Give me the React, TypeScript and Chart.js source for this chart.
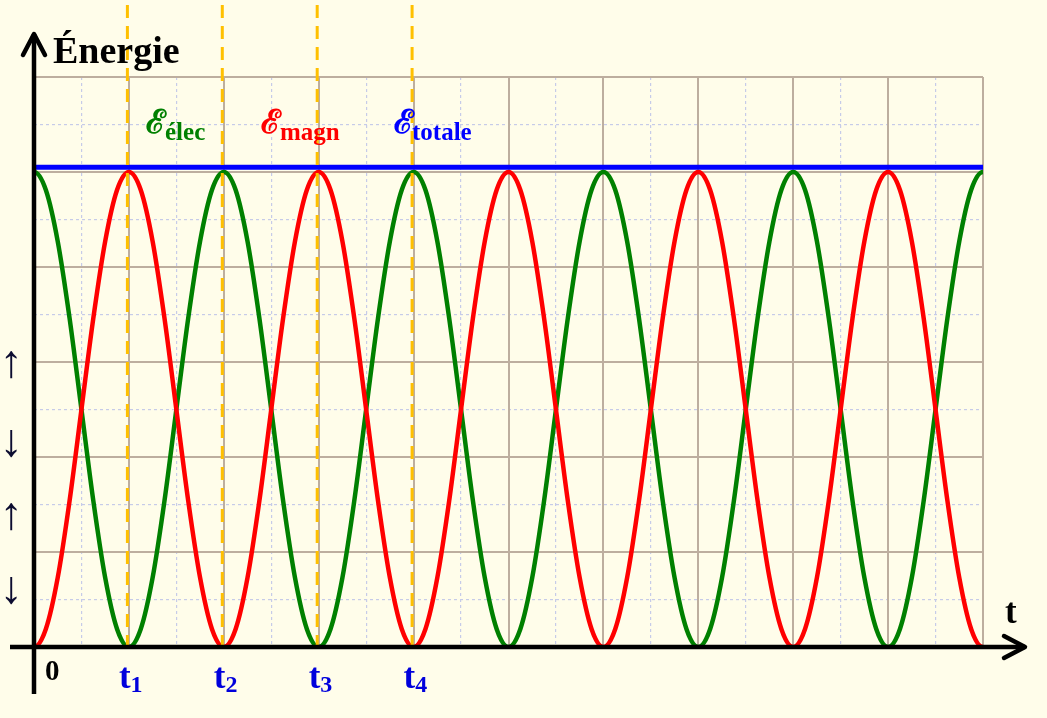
import { useEffect, useRef } from "react";
import { Chart, registerables } from "chart.js";

Chart.register(...registerables);

// Curves are sampled every T_STEP, starting one step before t = 0
// so that both ends of the drawn range stay smooth.
const T_STEP = 0.125;
const T_START = -0.125;

// Electric energy (green)
const eElec = [
  4.81,
  5, 4.81, 4.27, 3.46, 2.5, 1.54, 0.73, 0.19, 0, 0.19, 0.73, 1.54, 2.5, 3.46, 4.27, 4.81,
  5, 4.81, 4.27, 3.46, 2.5, 1.54, 0.73, 0.19, 0, 0.19, 0.73, 1.54, 2.5, 3.46, 4.27, 4.81,
  5, 4.81, 4.27, 3.46, 2.5, 1.54, 0.73, 0.19, 0, 0.19, 0.73, 1.54, 2.5, 3.46, 4.27, 4.81,
  5, 4.81, 4.27, 3.46, 2.5, 1.54, 0.73, 0.19, 0, 0.19, 0.73, 1.54, 2.5, 3.46, 4.27, 4.81,
  5, 4.81, 4.27, 3.46, 2.5, 1.54, 0.73, 0.19, 0, 0.19, 0.73, 1.54, 2.5, 3.46, 4.27, 4.81,
  5, 4.81,
];

// Magnetic energy (red)
const eMagn = [
  0.19,
  0, 0.19, 0.73, 1.54, 2.5, 3.46, 4.27, 4.81, 5, 4.81, 4.27, 3.46, 2.5, 1.54, 0.73, 0.19,
  0, 0.19, 0.73, 1.54, 2.5, 3.46, 4.27, 4.81, 5, 4.81, 4.27, 3.46, 2.5, 1.54, 0.73, 0.19,
  0, 0.19, 0.73, 1.54, 2.5, 3.46, 4.27, 4.81, 5, 4.81, 4.27, 3.46, 2.5, 1.54, 0.73, 0.19,
  0, 0.19, 0.73, 1.54, 2.5, 3.46, 4.27, 4.81, 5, 4.81, 4.27, 3.46, 2.5, 1.54, 0.73, 0.19,
  0, 0.19, 0.73, 1.54, 2.5, 3.46, 4.27, 4.81, 5, 4.81, 4.27, 3.46, 2.5, 1.54, 0.73, 0.19,
  0, 0.19,
];

// Total energy (blue), constant
const totaleTimes = [0, 10];
const eTotale = [5.05, 5.05];

// Marked instants on the time axis
const markTimes = [1, 2, 3, 4];
const markIndices = ["1", "2", "3", "4"];

// Small arrows along the energy axis
const sideArrows = ["↑", "↓", "↑", "↓"];
const sideArrowLevels = [2.97, 2.14, 1.37, 0.59];

const X_MAX = 10;
const Y_MAX = 6;

const BG = "#fffdea";
const MAJOR = "#bdae9f";
const MINOR = "#c6cbe8";
const SERIF = "'Liberation Serif', 'Times New Roman', serif";

const toPoints = (vals: number[], times?: number[]) =>
  vals.map((v, i) => ({ x: times ? times[i] : T_START + i * T_STEP, y: v }));

const drawIndexed = (
  ctx: CanvasRenderingContext2D,
  main: string,
  mainFont: string,
  sub: string,
  subFont: string,
  x: number,
  y: number,
  subDy: number,
  color: string,
  gap = 0
) => {
  ctx.fillStyle = color;
  ctx.font = mainFont;
  ctx.fillText(main, x, y);
  const w = ctx.measureText(main).width;
  ctx.font = subFont;
  ctx.fillText(sub, x + w + gap, y + subDy);
};

const overlay = {
  id: "overlay",
  afterDatasetsDraw(chart: any) {
    const { ctx } = chart;
    const x = chart.scales.x;
    const y = chart.scales.y;
    const y0 = y.getPixelForValue(0);
    ctx.save();
    ctx.strokeStyle = "#ffc000";
    ctx.lineWidth = 3;
    ctx.setLineDash([13, 8]);
    ctx.lineDashOffset = -5;
    for (const t of markTimes) {
      const px = x.getPixelForValue(t) - 1.5;
      ctx.beginPath();
      ctx.moveTo(px, 0);
      ctx.lineTo(px, y0);
      ctx.stroke();
    }
    ctx.restore();
  },
  afterDraw(chart: any) {
    const { ctx } = chart;
    const x = chart.scales.x;
    const y = chart.scales.y;
    const x0 = x.getPixelForValue(0);
    const y0 = y.getPixelForValue(0);

    ctx.save();
    // axes with open arrowheads
    ctx.strokeStyle = "#000";
    ctx.lineWidth = 4.5;
    ctx.lineCap = "butt";
    ctx.beginPath();
    ctx.moveTo(x0, 694);
    ctx.lineTo(x0, 34);
    ctx.moveTo(10, y0);
    ctx.lineTo(1025, y0);
    ctx.stroke();
    ctx.lineCap = "round";
    ctx.lineJoin = "round";
    ctx.beginPath();
    ctx.moveTo(x0 - 11, 55);
    ctx.lineTo(x0, 34);
    ctx.lineTo(x0 + 11, 55);
    ctx.moveTo(1004, y0 - 11);
    ctx.lineTo(1025, y0);
    ctx.lineTo(1004, y0 + 11);
    ctx.stroke();

    ctx.textBaseline = "alphabetic";
    ctx.textAlign = "left";

    // axis titles
    ctx.fillStyle = "#000";
    ctx.font = `bold 38px ${SERIF}`;
    ctx.fillText("Énergie", 53, 63);
    ctx.font = `bold 35px ${SERIF}`;
    ctx.fillText("t", 1005, 623);
    ctx.font = `bold 29px ${SERIF}`;
    ctx.fillText("0", 45, 680);

    // marked instants
    markTimes.forEach((t, i) => {
      const px = x.getPixelForValue(t);
      drawIndexed(
        ctx,
        "t",
        `bold 35px ${SERIF}`,
        markIndices[i],
        `bold 24px ${SERIF}`,
        px - 10,
        688,
        4,
        "#0000dc"
      );
    });

    // curve names
    const scriptFont = "bold 33px 'DejaVu Serif', serif";
    const subFont = `bold 25px ${SERIF}`;
    drawIndexed(ctx, "ℰ", scriptFont, "élec", subFont, 146, 133, 7, "#008000", -1);
    drawIndexed(ctx, "ℰ", scriptFont, "magn", subFont, 261, 133, 7, "#ff0000", -1);
    drawIndexed(ctx, "ℰ", scriptFont, "totale", subFont, 394, 133, 7, "#0000ff", -2);

    // arrows beside the energy axis
    ctx.fillStyle = "#0c0c30";
    ctx.font = `bold 46px ${SERIF}`;
    ctx.textAlign = "center";
    ctx.textBaseline = "middle";
    sideArrows.forEach((a, i) => {
      ctx.fillText(a, 11, y.getPixelForValue(sideArrowLevels[i]));
    });
    ctx.restore();
  },
};

const zeroWidth = (s: any) => {
  s.width = 0;
};
const zeroHeight = (s: any) => {
  s.height = 0;
};

const minorColor = (c: any) =>
  c.tick && c.tick.value % 1 !== 0 ? MINOR : "transparent";

export default function App() {
  const ref = useRef<HTMLCanvasElement>(null);

  useEffect(() => {
    if (!ref.current) return;
    const chart = new Chart(ref.current, {
      type: "line",
      data: {
        datasets: [
          {
            label: "totale",
            data: toPoints(eTotale, totaleTimes),
            borderColor: "#0000ff",
            borderWidth: 5,
            pointRadius: 0,
          },
          {
            label: "magn",
            data: toPoints(eMagn),
            borderColor: "#ff0000",
            borderWidth: 4.5,
            pointRadius: 0,
            cubicInterpolationMode: "monotone",
          },
          {
            label: "élec",
            data: toPoints(eElec),
            borderColor: "#008000",
            borderWidth: 4.5,
            pointRadius: 0,
            cubicInterpolationMode: "monotone",
          },
        ],
      },
      options: {
        animation: false,
        responsive: false,
        events: [],
        layout: { padding: { left: 34, right: 64, top: 77, bottom: 71 } },
        plugins: { legend: { display: false }, tooltip: { enabled: false } },
        scales: {
          x2: {
            type: "linear",
            position: "bottom",
            min: 0,
            max: X_MAX,
            ticks: { display: false, stepSize: 0.5 },
            grid: { drawTicks: false, lineWidth: 1.2, color: minorColor },
            border: { display: false, dash: [3, 3] },
            afterFit: zeroHeight,
          },
          y2: {
            type: "linear",
            position: "left",
            min: 0,
            max: Y_MAX,
            ticks: { display: false, stepSize: 0.5 },
            grid: { drawTicks: false, lineWidth: 1.2, color: minorColor },
            border: { display: false, dash: [3, 3] },
            afterFit: zeroWidth,
          },
          x: {
            type: "linear",
            position: "bottom",
            min: 0,
            max: X_MAX,
            ticks: { display: false, stepSize: 1 },
            grid: { drawTicks: false, lineWidth: 2, color: MAJOR },
            border: { display: false },
            afterFit: zeroHeight,
          },
          y: {
            type: "linear",
            position: "left",
            min: 0,
            max: Y_MAX,
            ticks: { display: false, stepSize: 1 },
            grid: { drawTicks: false, lineWidth: 2, color: MAJOR },
            border: { display: false },
            afterFit: zeroWidth,
          },
        },
      },
      plugins: [overlay],
    } as any);
    return () => chart.destroy();
  }, []);

  return (
    <div
      style={{
        position: "absolute",
        left: 0,
        top: 0,
        width: 1047,
        height: 718,
        background: BG,
      }}
    >
      <canvas ref={ref} width={1047} height={718} style={{ display: "block" }} />
    </div>
  );
}
